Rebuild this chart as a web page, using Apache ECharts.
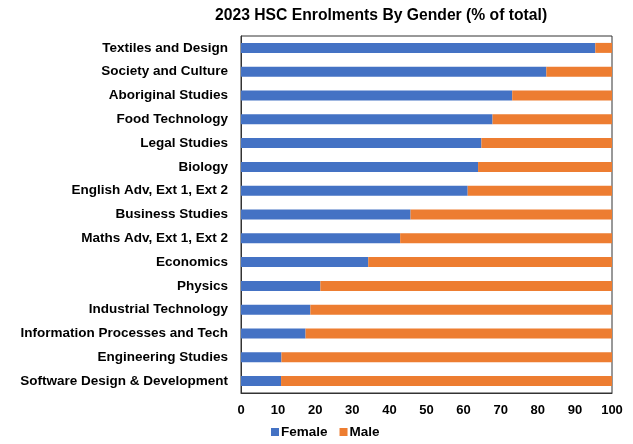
<!DOCTYPE html>
<html>
<head>
<meta charset="utf-8">
<script src="https://cdn.jsdelivr.net/npm/echarts@6/dist/echarts.min.js"></script>
<style>
  html, body { margin: 0; padding: 0; background: #fff; }
  #chart { width: 633px; height: 444px; }
</style>
</head>
<body>
<div id="chart"></div>
<script>
// Subjects, listed top to bottom
const subjects = [
  'Textiles and Design',
  'Society and Culture',
  'Aboriginal Studies',
  'Food Technology',
  'Legal Studies',
  'Biology',
  'English Adv, Ext 1, Ext 2',
  'Business Studies',
  'Maths Adv, Ext 1, Ext 2',
  'Economics',
  'Physics',
  'Industrial Technology',
  'Information Processes and Tech',
  'Engineering Studies',
  'Software Design & Development'
];

// Share of enrolments (% of total)
const female = [95.5, 82.3, 73.1, 67.8, 64.8, 63.9, 61.1, 45.7, 42.9, 34.3, 21.4, 18.7, 17.4, 10.9, 10.8];
const male   = [4.5, 17.7, 26.9, 32.2, 35.2, 36.1, 38.9, 54.3, 57.1, 65.7, 78.6, 81.3, 82.6, 89.1, 89.2];

const xTicks = [0, 10, 20, 30, 40, 50, 60, 70, 80, 90, 100];

const font = 'Liberation Sans, Arial, sans-serif';

const chart = echarts.init(document.getElementById('chart'));
chart.setOption({
  backgroundColor: '#fff',
  animation: false,
  title: {
    text: '2023 HSC Enrolments By Gender (% of total)',
    left: 210,
    top: 3,
    textStyle: { fontFamily: font, fontSize: 15.7, fontWeight: 'bold', color: '#000' }
  },
  legend: {
    data: ['Female', 'Male'],
    left: 266,
    top: 420,
    itemWidth: 8,
    itemHeight: 8,
    itemGap: 12,
    icon: 'rect',
    textStyle: { fontFamily: font, fontSize: 13.5, fontWeight: 'bold', color: '#000', padding: [0, 0, 0, -3] }
  },
  grid: {
    left: 241,
    right: 21,
    top: 36,
    bottom: 51,
    show: true,
    borderColor: '#333',
    borderWidth: 1,
    containLabel: false
  },
  xAxis: {
    type: 'value',
    min: xTicks[0],
    max: xTicks[xTicks.length - 1],
    interval: 10,
    splitLine: { show: false },
    axisLine: { show: true, lineStyle: { color: '#333', width: 1 } },
    axisTick: { show: false },
    axisLabel: {
      margin: 11,
      fontFamily: font, fontSize: 13, fontWeight: 'bold', color: '#000'
    }
  },
  yAxis: {
    type: 'category',
    data: subjects,
    inverse: true,
    axisLine: { show: true, lineStyle: { color: '#333', width: 1 } },
    axisTick: { show: false },
    axisLabel: {
      margin: 13,
      fontFamily: font, fontSize: 13.5, fontWeight: 'bold', color: '#000'
    }
  },
  series: [
    {
      name: 'Female',
      type: 'bar',
      stack: 'total',
      data: female,
      barWidth: 10,
      itemStyle: { color: '#4472C4' }
    },
    {
      name: 'Male',
      type: 'bar',
      stack: 'total',
      data: male,
      barWidth: 10,
      itemStyle: { color: '#ED7D31' }
    }
  ]
});
</script>
</body>
</html>
